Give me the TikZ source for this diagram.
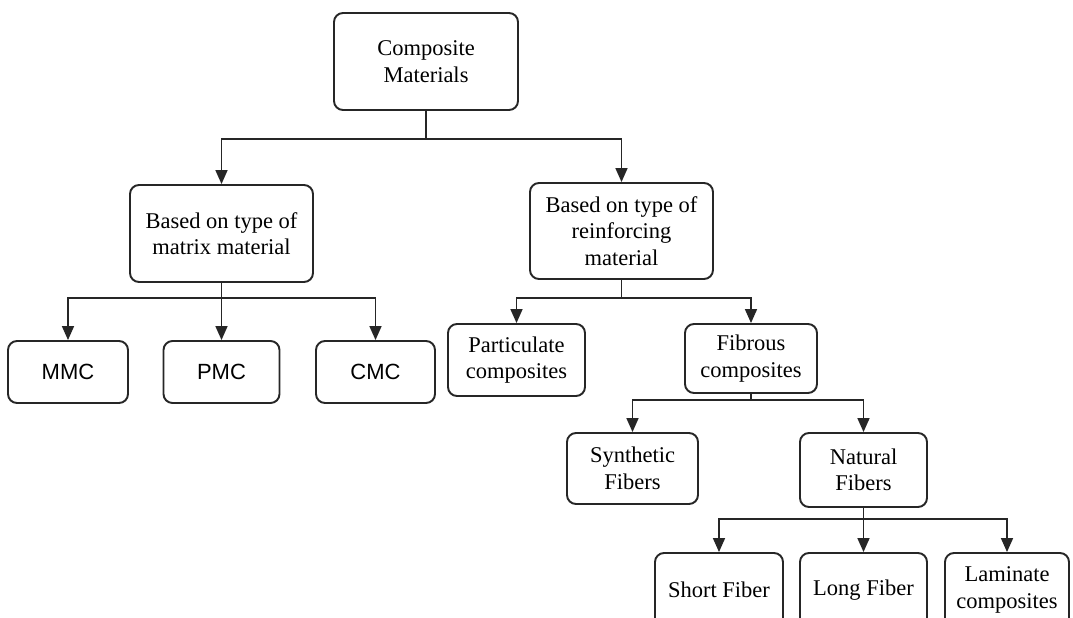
\documentclass[tikz,border=0pt]{standalone}
\usepackage{fontspec}
\setmainfont{Liberation Serif}
\newfontfamily\arialfont{Liberation Sans}
\usetikzlibrary{arrows.meta}

\tikzset{
  box/.style={draw=black!85, line width=1.9pt, rounded corners=9pt, align=center,
    inner sep=2pt, font=\fontsize{22.5}{26.5}\selectfont},
  sansbox/.style={box, font=\arialfont\fontsize{22}{26}\selectfont},
  arr/.style={-{Triangle[width=12pt,length=14pt]}, line width=1.6pt, black!85},
  lnk/.style={line width=1.6pt, black!85}
}

\begin{document}
\begin{tikzpicture}[x=1pt, y=-1pt]
  \clip (0,0) rectangle (1073,618);
  \fill[white] (0,0) rectangle (1073,618);

  % top level
  \node[box, minimum width=184pt, minimum height=97pt] (comp) at (426,61.5) {Composite\\Materials};

  % second level
  \node[box, minimum width=183pt, minimum height=97pt] (matrix) at (221.5,233.5) {Based on type of\\matrix material};
  \node[box, minimum width=183pt, minimum height=96pt] (reinf) at (621.5,231) {Based on type of\\reinforcing\\material};

  % matrix types
  \node[sansbox, minimum width=120pt, minimum height=62pt] (mmc) at (68,372) {MMC};
  \node[sansbox, minimum width=116pt, minimum height=62pt] (pmc) at (221.5,372) {PMC};
  \node[sansbox, minimum width=119pt, minimum height=62pt] (cmc) at (375.5,372) {CMC};

  % reinforcement types
  \node[box, minimum width=137pt, minimum height=72pt] (part) at (516.5,360) {Particulate\\composites};
  \node[box, minimum width=132pt, minimum height=69pt] (fib) at (751,358.5) {Fibrous\\composites};

  % fibre types
  \node[box, minimum width=131pt, minimum height=71pt] (syn) at (632.5,468.5) {Synthetic\\Fibers};
  \node[box, minimum width=127pt, minimum height=74pt] (nat) at (863.5,470) {Natural\\Fibers};

  % natural fibre forms
  \node[box, minimum width=128pt, minimum height=74pt] (short) at (719,590) {Short Fiber};
  \node[box, minimum width=127pt, minimum height=74pt] (long) at (863.5,590) {Long Fiber};
  \node[box, minimum width=124pt, minimum height=74pt] (lam) at (1007,590) {Laminate\\composites};

  % junctions
  \coordinate (j1) at (426,139);
  \coordinate (j2) at (221.5,298);
  \coordinate (j3) at (621.5,298);
  \coordinate (j4) at (751,400);
  \coordinate (j5) at (863.5,519);

  % connectors
  \draw[lnk] (comp.south) -- (j1);
  \draw[arr] (j1) -| (matrix.north);
  \draw[arr] (j1) -| (reinf.north);

  \draw[lnk] (matrix.south) -- (j2);
  \draw[arr] (j2) -| (mmc.north);
  \draw[arr] (j2) -- (pmc.north);
  \draw[arr] (j2) -| (cmc.north);

  \draw[lnk] (reinf.south) -- (j3);
  \draw[arr] (j3) -| (part.north);
  \draw[arr] (j3) -| (fib.north);

  \draw[lnk] (fib.south) -- (j4);
  \draw[arr] (j4) -| (syn.north);
  \draw[arr] (j4) -| (nat.north);

  \draw[lnk] (nat.south) -- (j5);
  \draw[arr] (j5) -| (short.north);
  \draw[arr] (j5) -- (long.north);
  \draw[arr] (j5) -| (lam.north);
\end{tikzpicture}
\end{document}
